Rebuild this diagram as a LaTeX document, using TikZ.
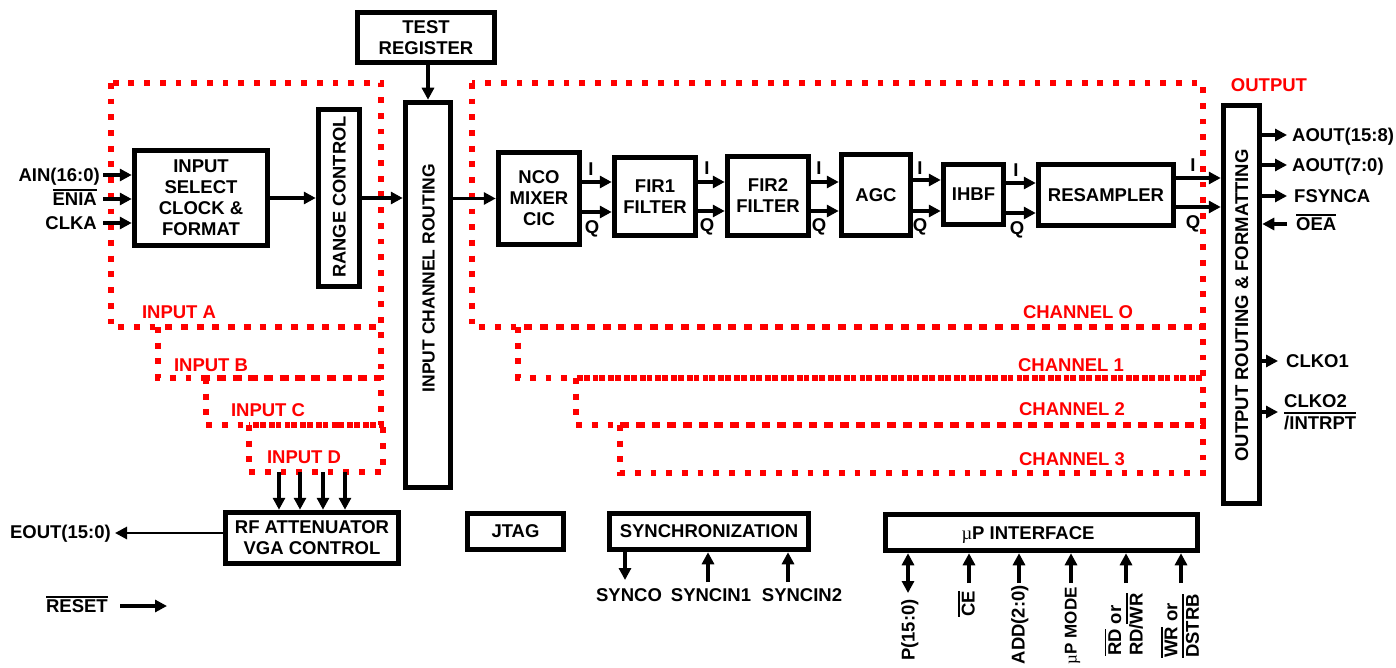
\documentclass[tikz,border=0pt]{standalone}
\usepackage{fontspec}
\setmainfont{Liberation Sans}
\newfontfamily\mufont{Liberation Serif}
\usetikzlibrary{arrows.meta}
\newcommand\ovl[1]{\vbox{\hrule height 1.5pt\kern 2pt\hbox{#1}}}
\newcommand\mup{{\mufont\mdseries\char"00B5}}
\begin{document}
\begin{tikzpicture}[x=1pt,y=-1pt,
  every node/.style={font=\fontsize{18.5}{21}\selectfont\bfseries},
  blk/.style={draw, line width=5.5pt, inner sep=0pt, align=center},
  sig/.style={line width=3.5pt, -{Triangle[length=12pt,width=12pt]}},
  dsig/.style={line width=3.5pt, {Triangle[length=12pt,width=12pt]}-{Triangle[length=12pt,width=12pt]}},
  reddot/.style={draw=red, line width=5.8pt, dash pattern=on 5.8pt off 9.9pt},
  lbl/.style={inner sep=0pt, text height=13pt, text depth=0pt},
  rlbl/.style={lbl, text=red},
  mlbl/.style={inner sep=0pt, align=left, font=\fontsize{18.5}{21.5}\selectfont\bfseries},
]
\useasboundingbox (0,0) rectangle (1396,668);

% red dotted groups
\draw[reddot] (111,83) rectangle (381,327);
\draw[reddot] (158,327) rectangle (381,378);
\draw[reddot] (206,378) rectangle (381,425);
\draw[reddot] (249,425) rectangle (383,472);
\draw[reddot] (472,83) rectangle (1203,327);
\draw[reddot] (518,327) rectangle (1203,378);
\draw[reddot] (576,378) rectangle (1203,425);
\draw[reddot] (620,425) rectangle (1203,473);

\node[rlbl] (la) at (179,312) {INPUT A};
\node[rlbl] (lb) at (211,365) {INPUT B};
\node[rlbl] (lc) at (268,410) {INPUT C};
\node[rlbl] (ld) at (304,457) {INPUT D};
\node[rlbl] (c0) at (1078,312) {CHANNEL O};
\node[rlbl] (c1) at (1071,365) {CHANNEL 1};
\node[rlbl] (c2) at (1072,409) {CHANNEL 2};
\node[rlbl] (c3) at (1072,459) {CHANNEL 3};
\node[rlbl] (outl) at (1269,85) {OUTPUT};

% blocks
\node[blk, minimum width=137, minimum height=50] (testreg) at (426,37.5) {TEST\\REGISTER};
\node[blk, minimum width=45, minimum height=385] (icr) at (428,295) {};
\node[lbl, rotate=90, font=\fontsize{17.5}{21}\selectfont\bfseries] (icrt) at ([yshift=17pt]icr.center) {INPUT CHANNEL ROUTING};
\node[blk, minimum width=133, minimum height=95] (isel) at (201,198) {INPUT\\SELECT\\CLOCK \&\\FORMAT};
\node[blk, minimum width=41, minimum height=177] (range) at (339,198) {};
\node[lbl, rotate=90, font=\fontsize{18.3}{21}\selectfont\bfseries] (ranget) at ([yshift=1pt]range.center) {RANGE CONTROL};
\node[blk, minimum width=173, minimum height=51] (rf) at (312,538) {RF ATTENUATOR\\VGA CONTROL};
\node[blk, minimum width=81, minimum height=92] (nco) at (539,198.5) {NCO\\MIXER\\CIC};
\node[blk, minimum width=81, minimum height=78] (fir1) at (655,196.5) {FIR1\\FILTER};
\node[blk, minimum width=81, minimum height=79] (fir2) at (768,196) {FIR2\\FILTER};
\node[blk, minimum width=69, minimum height=81] (agc) at (876,195) {AGC};
\node[blk, minimum width=60, minimum height=60] (ihbf) at (973.5,194.5) {IHBF};
\node[blk, minimum width=135, minimum height=61] (res) at (1106,195) {RESAMPLER};
\node[blk, minimum width=36, minimum height=398] (orf) at (1241.5,304.5) {};
\node[lbl, rotate=90] (orft) at ([yshift=-1pt]orf.center) {OUTPUT ROUTING \& FORMATTING};
\node[blk, minimum width=96, minimum height=36] (jtag) at (515.5,531.5) {JTAG};
\node[blk, minimum width=199, minimum height=36] (sync) at (709,531.5) {SYNCHRONIZATION};
\node[blk, minimum width=312, minimum height=36] (up) at (1041.5,532.5) {};
\node[lbl] (upt) at (1028,533) {\mup P INTERFACE};

% inputs
\coordinate (ain) at (103,175);
\coordinate (enia) at (103,199);
\coordinate (clka) at (103,223);
\draw[sig] (ain) -- (ain -| isel.west);
\draw[sig] (enia) -- (enia -| isel.west);
\draw[sig] (clka) -- (clka -| isel.west);
\node[lbl, anchor=east] (ainl) at (100,175) {AIN(16:0)};
\node[lbl, anchor=east] (enial) at (97,199) {\ovl{ENIA}};
\node[lbl, anchor=east] (clkal) at (97,223) {CLKA};

\draw[sig] (isel.east) -- (range.west);
\draw[sig] (range.east) -- (range.east -| icr.west);
\draw[sig] (icr.east |- nco.west) -- (nco.west);
\draw[sig] (testreg.south -| icr.north) -- (icr.north);

% I/Q paths
\coordinate (i1) at (0,182); \coordinate (q1) at (0,212);
\draw[sig] (nco.east |- i1) -- (fir1.west |- i1);
\draw[sig] (nco.east |- q1) -- (fir1.west |- q1);
\node[lbl] (li1) at (591,169) {I};
\node[lbl] (lq1) at (592,227) {Q};
\coordinate (i2) at (0,182); \coordinate (q2) at (0,211);
\draw[sig] (fir1.east |- i2) -- (fir2.west |- i2);
\draw[sig] (fir1.east |- q2) -- (fir2.west |- q2);
\node[lbl] (li2) at (707,168) {I};
\node[lbl] (lq2) at (707,225) {Q};
\coordinate (i3) at (0,182); \coordinate (q3) at (0,211);
\draw[sig] (fir2.east |- i3) -- (agc.west |- i3);
\draw[sig] (fir2.east |- q3) -- (agc.west |- q3);
\node[lbl] (li3) at (819,168) {I};
\node[lbl] (lq3) at (819,225) {Q};
\coordinate (i4) at (0,180); \coordinate (q4) at (0,211);
\draw[sig] (agc.east |- i4) -- (ihbf.west |- i4);
\draw[sig] (agc.east |- q4) -- (ihbf.west |- q4);
\node[lbl] (li4) at (920,168) {I};
\node[lbl] (lq4) at (920,225) {Q};
\coordinate (i5) at (0,183); \coordinate (q5) at (0,213);
\draw[sig] (ihbf.east |- i5) -- (res.west |- i5);
\draw[sig] (ihbf.east |- q5) -- (res.west |- q5);
\node[lbl] (li5) at (1016,170) {I};
\node[lbl] (lq5) at (1017,228) {Q};
\coordinate (i6) at (0,178); \coordinate (q6) at (0,207);
\draw[sig] (res.east |- i6) -- (orf.west |- i6);
\draw[sig] (res.east |- q6) -- (orf.west |- q6);
\node[lbl] (li6) at (1193,165) {I};
\node[lbl] (lq6) at (1193,222) {Q};

% outputs
\coordinate (ao1) at (1287,135);
\coordinate (ao2) at (1287,165);
\coordinate (fs) at (1287,196);
\coordinate (oea) at (1287,224);
\coordinate (ck1) at (1278,361);
\coordinate (ck2) at (1278,412);
\draw[sig] (orf.east |- ao1) -- (ao1);
\draw[sig] (orf.east |- ao2) -- (ao2);
\draw[sig] (orf.east |- fs) -- (fs);
\draw[sig] (oea) -- (oea -| orf.east);
\draw[sig] (orf.east |- ck1) -- (ck1);
\draw[sig] (orf.east |- ck2) -- (ck2);
\node[lbl, anchor=west] (ao1l) at (1292,135) {AOUT(15:8)};
\node[lbl, anchor=west] (ao2l) at (1292,165) {AOUT(7:0)};
\node[lbl, anchor=west] (fsl) at (1294,196) {FSYNCA};
\node[lbl, anchor=west] (oeal) at (1296,224) {\ovl{OEA}};
\node[lbl, anchor=west] (ck1l) at (1286,361) {CLKO1};
\node[mlbl, anchor=west] (ck2l) at (1284,412) {CLKO2\\\ovl{/INTRPT}};

% input D to RF attenuator
\coordinate (d1) at (279,472);
\coordinate (d2) at (300,472);
\coordinate (d3) at (323,472);
\coordinate (d4) at (345,472);
\draw[sig] (d1) -- (d1 |- rf.north);
\draw[sig] (d2) -- (d2 |- rf.north);
\draw[sig] (d3) -- (d3 |- rf.north);
\draw[sig] (d4) -- (d4 |- rf.north);

\coordinate (eout) at (115,533);
\draw[sig, line width=2.8pt] (eout -| rf.west) -- (eout);
\node[lbl, anchor=east] (eoutl) at (111,532) {EOUT(15:0)};

\coordinate (rs1) at (120,606);
\coordinate (rs2) at (167,606);
\draw[sig] (rs1) -- (rs2);
\node[lbl, anchor=east] (rsl) at (108,606) {\ovl{RESET}};

% synchronization pins
\coordinate (synco) at (625,580);
\coordinate (si1) at (708,582);
\coordinate (si2) at (788,582);
\draw[sig] (synco |- sync.south) -- (synco);
\draw[sig] (si1) -- (si1 |- sync.south);
\draw[sig] (si2) -- (si2 |- sync.south);
\node[lbl] (syncol) at (629,595) {SYNCO};
\node[lbl] (si1l) at (711,595) {SYNCIN1};
\node[lbl] (si2l) at (802,595) {SYNCIN2};

% uP interface pins
\coordinate (pp) at (908,593);
\coordinate (ce) at (969,583);
\coordinate (add) at (1019,583);
\coordinate (mode) at (1071,583);
\coordinate (rd) at (1126,583);
\coordinate (wr) at (1181,583);
\draw[dsig] (pp |- up.south) -- (pp);
\draw[sig] (ce) -- (ce |- up.south);
\draw[sig] (add) -- (add |- up.south);
\draw[sig] (mode) -- (mode |- up.south);
\draw[sig] (rd) -- (rd |- up.south);
\draw[sig] (wr) -- (wr |- up.south);
\node[lbl, rotate=90, anchor=east] (ppl) at (908,599) {P(15:0)};
\node[lbl, rotate=90, anchor=east] (cel) at (968,591) {\ovl{CE}};
\node[lbl, rotate=90, anchor=east] (addl) at (1018,585) {ADD(2:0)};
\node[lbl, rotate=90, anchor=east, font=\fontsize{17}{20}\selectfont\bfseries] (model) at (1070,587) {\mup P MODE};
\node[mlbl, rotate=90, anchor=east] (rdl) at (1124,593) {\ovl{RD} or\\RD/\ovl{WR}};
\node[mlbl, rotate=90, anchor=east] (wrl) at (1180,594) {\ovl{WR} or\\\ovl{DSTRB}};
\end{tikzpicture}
\end{document}
